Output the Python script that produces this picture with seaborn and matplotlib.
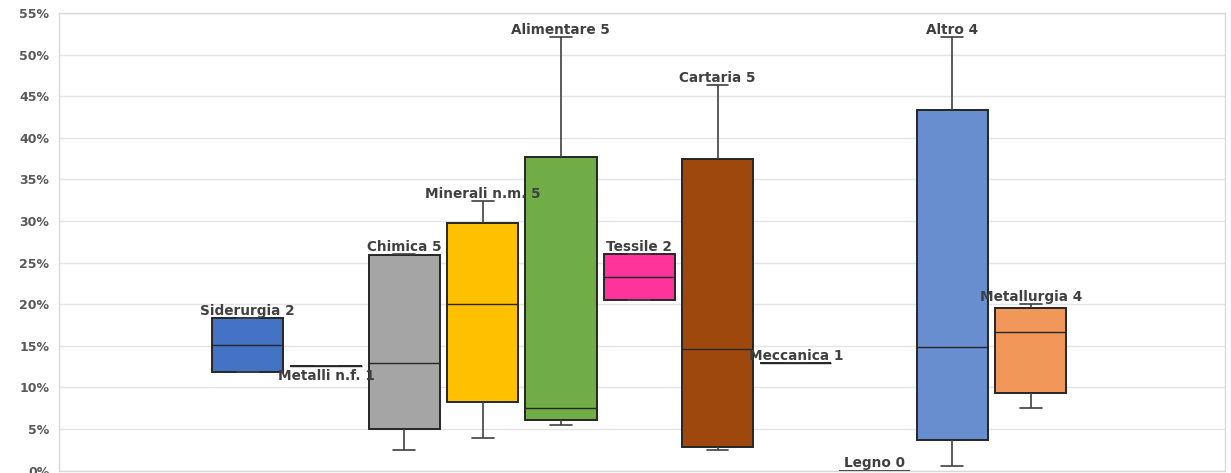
import matplotlib
matplotlib.use("Agg")
import matplotlib.pyplot as plt
import seaborn as sns
import pandas as pd

# ---- data (five-number summaries, in %) ----
categories = ["Siderurgia", "Metalli n.f.", "Chimica", "Minerali n.m.", "Alimentare",
              "Tessile", "Cartaria", "Meccanica", "Legno", "Altro", "Metallurgia"]
counts = [2, 1, 5, 5, 5, 2, 5, 1, 0, 4, 4]
mins    = [11.8, 12.57, 2.48, 3.9, 5.44, 20.5, 2.48, 12.9, 0.0, 0.55, 7.5]
q1s     = [11.8, 12.57, 4.96, 8.2, 6.08, 20.5, 2.8, 12.9, 0.0, 3.64, 9.37]
medians = [15.06, 12.57, 12.9, 20.0, 7.5, 23.3, 14.65, 12.9, 0.0, 14.9, 16.7]
q3s     = [18.3, 12.57, 25.9, 29.7, 37.7, 26.0, 37.5, 12.9, 0.0, 43.3, 19.6]
maxs    = [18.3, 12.57, 26.0, 32.4, 52.1, 26.0, 46.3, 12.9, 0.0, 52.1, 20.0]
colors = ["#4472C4", "#262626", "#A5A5A5", "#FFC000", "#70AD47", "#FF3399",
          "#9E480E", "#262626", "#262626", "#698ED0", "#F1975A"]
yticks = list(range(0, 60, 5))
ytick_labels = [f"{t}%" for t in yticks]

rows = []
for c, a, b, m, d, e in zip(categories, mins, q1s, medians, q3s, maxs):
    for v in (a, b, m, d, e):
        rows.append({"Settore": c, "Valore": v})
df = pd.DataFrame(rows)

sns.set_theme(style="white")
plt.rcParams["font.family"] = ["DejaVu Sans"]

fig = plt.figure(figsize=(12.31, 4.73), dpi=100)
ax = fig.add_axes([0.0479, 0.005, 0.9472, 0.9677])

sns.boxplot(data=df, x="Settore", y="Valore", hue="Settore", order=categories,
            hue_order=categories, palette=colors, saturation=1, whis=(0, 100),
            width=0.91, legend=False, ax=ax, linecolor="#262626", linewidth=1.4,
            capwidths=0.28,
            whiskerprops={"color": "#404040", "linewidth": 1.2},
            capprops={"color": "#404040", "linewidth": 1.2},
            medianprops={"color": "#262626", "linewidth": 1.0},
            showfliers=False)

# labels
for i, (c, n) in enumerate(zip(categories, counts)):
    y = maxs[i] + 0.9
    if c == "Metalli n.f.":
        y = maxs[i] - 1.2
    ax.text(i, y, f"{c} {n}", ha="center", va="center", fontsize=9.8,
            fontweight="bold", color="#404040", zorder=5)

ax.set_xlim(-2.41, 12.48)
ax.set_ylim(0, 55)
ax.set_yticks(yticks)
ax.set_yticklabels(ytick_labels)
ax.set_xticks([])
ax.set_xlabel("")
ax.set_ylabel("")
ax.tick_params(axis="y", length=0, pad=7, labelsize=9, labelcolor="#595959")
for lab in ax.get_yticklabels():
    lab.set_fontweight("bold")
ax.grid(axis="y", color="#E4E4E4", linewidth=1.0)
ax.set_axisbelow(True)
for s in ax.spines.values():
    s.set_color("#D9D9D9")
    s.set_linewidth(1.0)

fig.savefig("out.png", dpi=100)
